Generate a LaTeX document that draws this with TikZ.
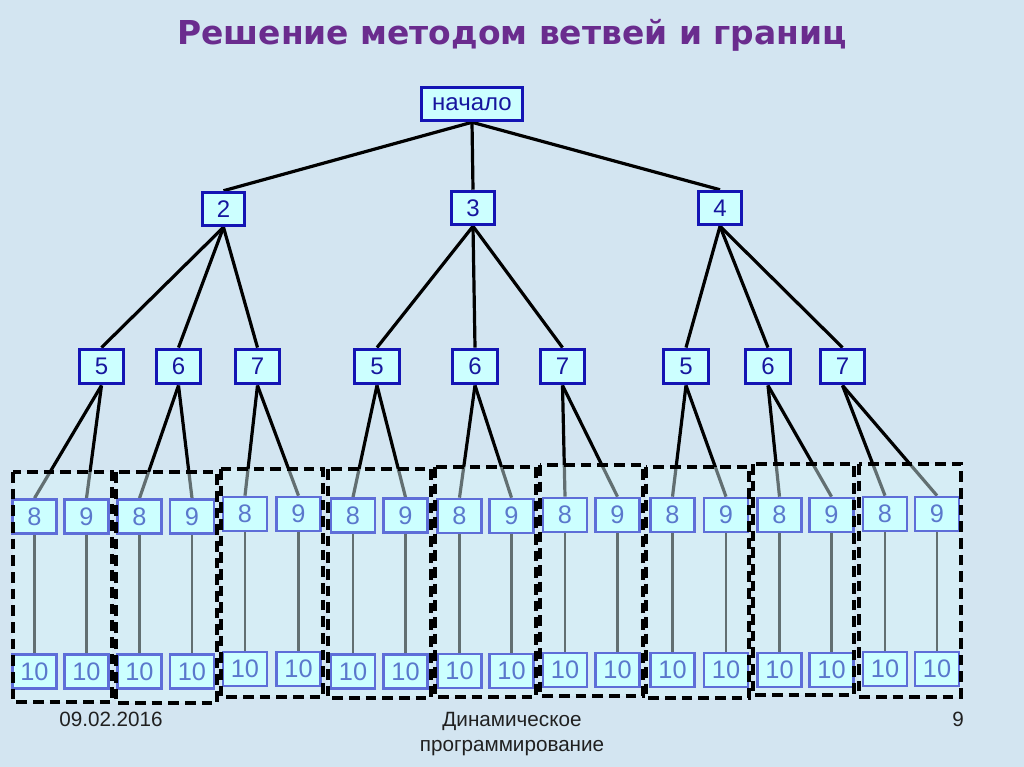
\documentclass[tikz,border=0pt]{standalone}
\usepackage{fontspec}
\usepackage{graphicx}
\setmainfont{Liberation Sans}
\newfontfamily\titlefont{DejaVu Sans}
\definecolor{bgc}{HTML}{D3E5F1}
\definecolor{boxfill}{HTML}{CCFFFF}
\definecolor{mainblue}{HTML}{1414B4}
\definecolor{maintext}{HTML}{16169E}
\definecolor{leafblue}{HTML}{5E6ED8}
\definecolor{leaftext}{HTML}{5A78CC}
\definecolor{grpfill}{HTML}{DAF8FC}
\definecolor{titlepurple}{HTML}{6A2C8E}
\definecolor{foot}{HTML}{202020}
\pgfdeclarelayer{bglayer}
\pgfdeclarelayer{edgelayer}
\pgfdeclarelayer{grplayer}
\pgfdeclarelayer{toplayer}
\pgfsetlayers{bglayer,edgelayer,grplayer,main,toplayer}
\begin{document}
\begin{tikzpicture}[x=0.75pt,y=-0.75pt,
  mainbox/.style={draw=mainblue, line width=2.4pt, fill=boxfill, text=maintext, inner sep=0pt,
    font=\fontsize{18}{20}\selectfont},
  rootbox/.style={mainbox, minimum width=76pt, minimum height=25pt, font=\fontsize{18}{20}\selectfont},
  lvltwo/.style={mainbox, minimum width=32pt, minimum height=25pt},
  lvlthree/.style={mainbox, minimum width=33.5pt, minimum height=26pt},
  leafbox/.style={draw=leafblue, line width=2pt, fill=boxfill, text=leaftext, inner sep=0pt,
    minimum width=33pt, minimum height=25.5pt, font=\fontsize{19}{21}\selectfont},
  treeedge/.style={line width=2.4pt, black},
  stem/.style={line width=2.1pt, black},
  grpbox/.style={fill=grpfill, fill opacity=0.45, draw=none},
  grpborder/.style={draw=black, line width=2.6pt, dash pattern=on 8pt off 4.5pt},
  foottext/.style={text=foot, font=\fontsize{15.5}{17}\selectfont, inner sep=0pt}
]
\begin{pgfonlayer}{bglayer}
\fill[bgc] (0,0) rectangle (1024,767);
\end{pgfonlayer}
\useasboundingbox (0,0) rectangle (1024,767);

% title
\node[anchor=base, text=titlepurple, inner sep=0pt] (title) at (512,45)
  {\resizebox{502pt}{!}{\titlefont\bfseries Решение методом ветвей и границ}};

% tree top
\node[rootbox] (root) at (472,104) {начало};
\node[lvltwo] (n2) at (223.5,209) {2};
\node[lvltwo] (n3) at (473,208) {3};
\node[lvltwo] (n4) at (720,208) {4};

\node[lvlthree] (a5) at (101.5,366.5) {5};
\node[lvlthree] (a6) at (178.5,366.5) {6};
\node[lvlthree] (a7) at (257.5,366.5) {7};
\node[lvlthree] (b5) at (377,366.5) {5};
\node[lvlthree] (b6) at (475,366.5) {6};
\node[lvlthree] (b7) at (562.5,366.5) {7};
\node[lvlthree] (c5) at (686,366.5) {5};
\node[lvlthree] (c6) at (768,366.5) {6};
\node[lvlthree] (c7) at (842.5,366.5) {7};

\begin{pgfonlayer}{edgelayer}
\draw[treeedge] (root.south) -- (n2.north);
\draw[treeedge] (root.south) -- (n3.north);
\draw[treeedge] (root.south) -- (n4.north);
\foreach \q in {a5,a6,a7}{\draw[treeedge] (n2.south) -- (\q.north);}
\foreach \q in {b5,b6,b7}{\draw[treeedge] (n3.south) -- (\q.north);}
\foreach \q in {c5,c6,c7}{\draw[treeedge] (n4.south) -- (\q.north);}
\end{pgfonlayer}

% groups
\foreach \p/\i/\xa/\xb/\ya/\yb/\l/\t/\r/\bb in {
  a5/1/34.5/86.5/516.5/671.5/13/472/112/702,
  a6/2/139.5/192/516.5/671.5/116/472/217/703,
  a7/3/245/298.5/514/669/221/469/323/697,
  b5/4/353/405.5/515.5/671.5/328/469/431/698,
  b6/5/459.5/511.5/516/671/435/467/536/697,
  b7/6/565/617.5/515/670/540/465/643/696,
  c5/7/672.5/726/515/670/646/467/749/698,
  c6/8/779.5/831.5/515/670/753/464/854/695,
  c7/9/885/937/514/669/859/464/961/697}{
  \node[leafbox] (e8\i) at (\xa,\ya) {8};
  \node[leafbox] (e9\i) at (\xb,\ya) {9};
  \node[leafbox] (ta\i) at (\xa,\yb) {10};
  \node[leafbox] (tb\i) at (\xb,\yb) {10};
  \begin{pgfonlayer}{edgelayer}
    \draw[treeedge] (\p.south) -- (e8\i.north);
    \draw[treeedge] (\p.south) -- (e9\i.north);
    \draw[stem] (e8\i.south) -- (ta\i.north);
    \draw[stem] (e9\i.south) -- (tb\i.north);
  \end{pgfonlayer}
  \begin{pgfonlayer}{grplayer}
    \path[grpbox] (\l,\t) rectangle (\r,\bb);
  \end{pgfonlayer}
  \begin{pgfonlayer}{toplayer}
    \draw[grpborder] (\l,\t) rectangle (\r,\bb);
  \end{pgfonlayer}
}

% footer
\node[foottext, anchor=base] (date) at (111,726) {09.02.2016};
\node[foottext, anchor=base] (foota) at (512,726) {Динамическое};
\node[foottext, anchor=base] (footb) at (512,751) {программирование};
\node[foottext, anchor=base] (page) at (958,726) {9};
\end{tikzpicture}
\end{document}
